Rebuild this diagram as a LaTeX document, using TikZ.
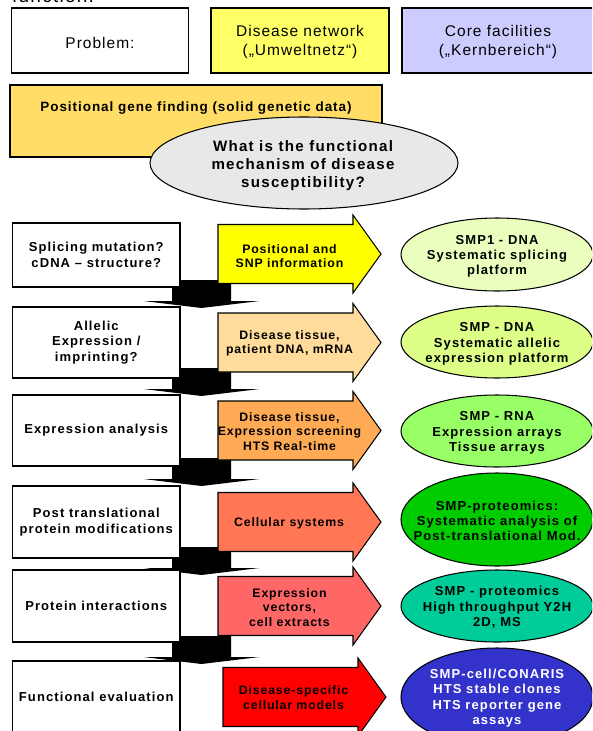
\documentclass[tikz,border=0pt]{standalone}
\usepackage{fontspec}
\setmainfont[LetterSpace=6.5]{Liberation Sans}
\newfontfamily\bwide[LetterSpace=8.5]{Liberation Sans Bold}
\newfontfamily\bmid[LetterSpace=7]{Liberation Sans Bold}
\usetikzlibrary{shapes.geometric}
\definecolor{hyel}{HTML}{FFFF66}
\definecolor{hlav}{HTML}{CCCCFF}
\definecolor{hgold}{HTML}{FFDD66}
\definecolor{hgray}{HTML}{E8E8E8}
\definecolor{arA}{HTML}{FFFF00}
\definecolor{arB}{HTML}{FFDC9C}
\definecolor{arC}{HTML}{FFAA55}
\definecolor{arD}{HTML}{FF7755}
\definecolor{arE}{HTML}{FF6666}
\definecolor{arF}{HTML}{FF0000}
\definecolor{elA}{HTML}{EAFFBE}
\definecolor{elB}{HTML}{DDFF88}
\definecolor{elC}{HTML}{99FF66}
\definecolor{elD}{HTML}{00CC00}
\definecolor{elE}{HTML}{00CC99}
\definecolor{elF}{HTML}{3333CC}
\tikzset{
  hbox/.style={draw=black, line width=1.05pt, rectangle, inner sep=0,
    font=\fontsize{15.5}{19.5}\selectfont, align=center},
  htext/.style={inner sep=0, font=\fontsize{15.5}{19.5}\selectfont, align=center},
  lbox/.style={draw=black, line width=1.05pt, fill=white, rectangle, inner sep=0,
    minimum width=167.5pt, font=\fontsize{13}{15.5}\selectfont\bwide, align=center},
  atext/.style={inner sep=0, font=\fontsize{12.3}{14.5}\selectfont\bmid, align=center},
  eshape/.style={ellipse, draw=black, line width=1.05pt, inner sep=0, minimum width=192pt},
  etext/.style={inner sep=0, font=\fontsize{13}{15.3}\selectfont\bwide, align=center},
  dnarrow/.pic={\fill[black] (-29.5,0) -- (29.5,0) -- (29.5,21) -- (58,21) -- (0,28)
      -- (-58,21) -- (-29.5,21) -- cycle;},
  blockarr/.pic={\draw[pic actions, draw=black, line width=1.05pt, line join=miter]
      (0,-29.5) -- (135,-29.5) -- (135,-39) -- (163,0) -- (135,39) -- (135,29.5)
      -- (0,29.5) -- cycle;}
}
\begin{document}
\begin{tikzpicture}[x=1pt, y=-1pt]
\useasboundingbox (0,0) rectangle (592,731);
\clip (0,0) rectangle (592,731);
\fill[white] (0,0) rectangle (592,731);

% cut-off heading line
\node[anchor=base west, inner sep=0, font=\fontsize{19}{22}\selectfont] (fn) at (12,2.5) {function:};

% header boxes
\node[hbox, fill=white, minimum width=177pt, minimum height=65pt] (prob) at (100,40.5) {};
\node[htext] (probt) at (100,42.5) {Problem:};
\node[hbox, fill=hyel, minimum width=178pt, minimum height=65pt] (dnet) at (300,40.5) {};
\node[htext] (dnett) at (300,42) {Disease network\\(„Umweltnetz“)};
\node[hbox, fill=hlav, minimum width=192pt, minimum height=65pt] (core) at (498,40.5) {};
\node[htext] (coret) at (498,42) {Core facilities\\(„Kernbereich“)};

\node[draw=black, line width=1.05pt, fill=hgold, minimum width=372pt, minimum height=72pt,
  inner sep=0] (pos) at (196,121) {};
\node[inner sep=0, font=\fontsize{13.5}{16}\selectfont\bmid] (post) at (196,108)
  {Positional gene finding (solid genetic data)};

\node[eshape, fill=hgray, minimum width=308pt, minimum height=92pt] (q) at (304,163) {};
\node[inner sep=0, font=\fontsize{15.1}{18}\selectfont\bwide, align=center] (qt) at (303,166)
  {What is the functional\\mechanism of disease\\susceptibility?};

% black down arrows (drawn beneath the boxes)
\pic at (201.5,280) {dnarrow};
\pic at (201.5,368) {dnarrow};
\pic at (201.5,458) {dnarrow};
\pic at (201.5,547) {dnarrow};
\pic at (201.5,636) {dnarrow};

% left column
\node[lbox, minimum height=64pt] (r1) at (96.25,255) {Splicing mutation?\\cDNA – structure?};
\node[lbox, minimum height=71pt] (r2) at (96.25,342.5) {Allelic\\Expression /\\imprinting?};
\node[lbox, minimum height=71pt] (r3) at (96.25,430.5) {Expression analysis};
\node[lbox, minimum height=72pt] (r4) at (96.25,522) {Post translational\\protein modifications};
\node[lbox, minimum height=72pt] (r5) at (96.25,606) {Protein interactions};
\node[lbox, minimum height=72pt] (r6) at (96.25,697) {Functional evaluation};

% block arrows
\pic[fill=arA] at (218,254) {blockarr};
\pic[fill=arB] at (218,342.5) {blockarr};
\pic[fill=arC] at (218,430.5) {blockarr};
\pic[fill=arD] at (218,522) {blockarr};
\pic[fill=arE] at (218,606) {blockarr};
\pic[fill=arF] at (223,697) {blockarr};

\node[atext] (a1) at (289.5,256) {Positional and\\SNP information};
\node[atext] (a2) at (289.5,343.5) {Disease tissue,\\patient DNA, mRNA};
\node[atext] (a3) at (289.5,431.5) {Disease tissue,\\Expression screening\\HTS Real-time};
\node[atext] (a4) at (289,523) {Cellular systems};
\node[atext] (a5) at (289.5,607.5) {Expression\\vectors,\\cell extracts};
\node[atext] (a6) at (293.5,697.5) {Disease-specific\\cellular models};

% core facility ellipses
\node[eshape, fill=elA, minimum height=73pt] (e1) at (497,254.5) {};
\node[eshape, fill=elB, minimum height=72pt] (e2) at (497,342) {};
\node[eshape, fill=elC, minimum height=72pt] (e3) at (497,431) {};
\node[eshape, fill=elD, minimum height=93pt] (e4) at (497,519.5) {};
\node[eshape, fill=elE, minimum height=72pt] (e5) at (497,606) {};
\node[eshape, fill=elF, minimum height=98pt] (e6) at (497,697) {};

\node[etext] (t1) at ([yshift=-2pt]e1.center) {SMP1 - DNA\\Systematic splicing\\platform};
\node[etext] (t2) at ([yshift=-2pt]e2.center) {SMP - DNA\\Systematic allelic\\expression platform};
\node[etext] (t3) at ([yshift=-2pt]e3.center) {SMP - RNA\\Expression arrays\\Tissue arrays};
\node[etext] (t4) at ([yshift=-1.5pt]e4.center) {SMP-proteomics:\\Systematic analysis of\\Post-translational Mod.};
\node[etext] (t5) at ([yshift=-1.5pt]e5.center) {SMP - proteomics\\High throughput Y2H\\2D, MS};
\node[etext, text=white] (t6) at ([yshift=-1pt]e6.center) {SMP-cell/CONARIS\\HTS stable clones\\HTS reporter gene\\assays};
\end{tikzpicture}
\end{document}
